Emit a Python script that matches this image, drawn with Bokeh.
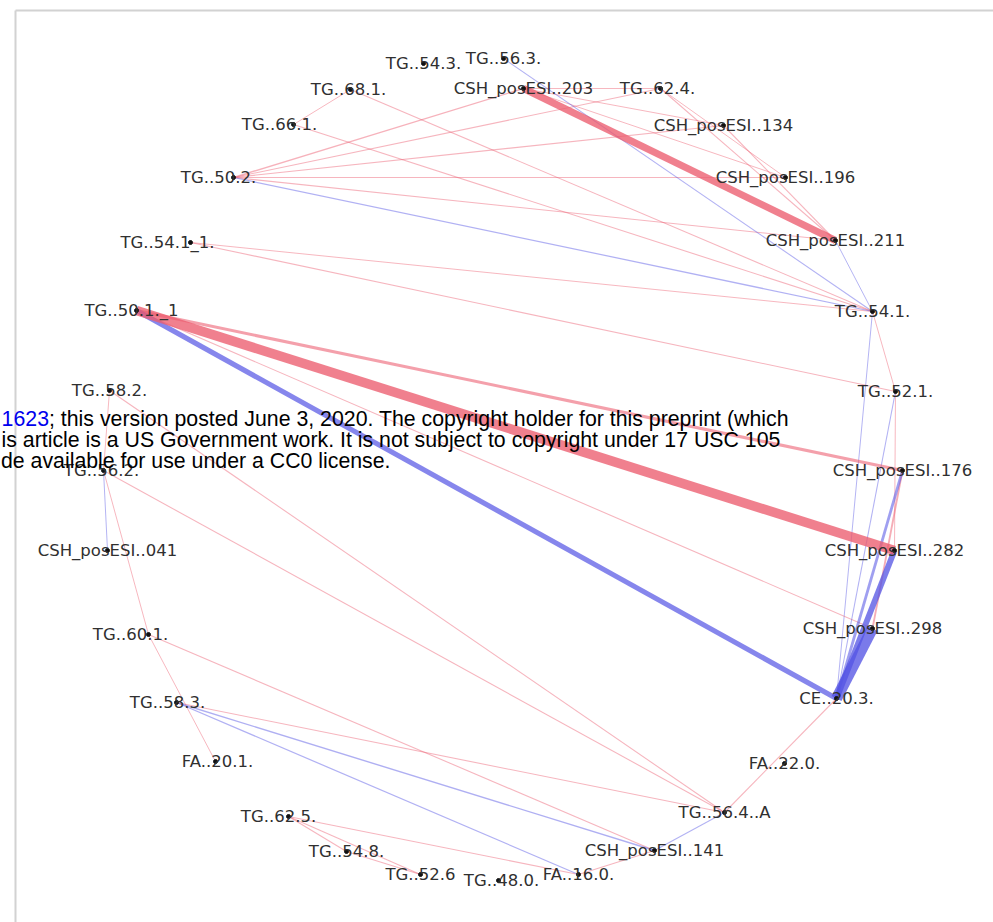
from bokeh.plotting import figure
from bokeh.models import Range1d, ColumnDataSource, Label
from bokeh.core.properties import value
from bokeh.embed import file_html
from bokeh.resources import INLINE

# ---- node layout (circle layout coordinates) ----
nodes = ["TG..56.3.", "CSH_posESI..203", "TG..62.4.", "CSH_posESI..134", "CSH_posESI..196",
         "CSH_posESI..211", "TG..54.1.", "TG..52.1.", "CSH_posESI..176", "CSH_posESI..282",
         "CSH_posESI..298", "CE..20.3.", "FA..22.0.", "TG..56.4..A", "CSH_posESI..141",
         "FA..16.0.", "TG..48.0.", "TG..52.6", "TG..54.8.", "TG..62.5.", "FA..20.1.",
         "TG..58.3.", "TG..60.1.", "CSH_posESI..041", "TG..56.2.", "TG..58.2.",
         "TG..50.1._1", "TG..54.1_1.", "TG..50.2.", "TG..66.1.", "TG..68.1.", "TG..54.3."]
node_x = [0.0025, 0.0525, 0.395, 0.5525, 0.7075, 0.8325, 0.925, 0.9825, 1.0, 0.98,
          0.925, 0.835, 0.705, 0.555, 0.38, 0.19, -0.01, -0.205, -0.39, -0.535, -0.7175,
          -0.815, -0.885, -0.9875, -0.9975, -0.9825, -0.915, -0.78, -0.6725, -0.5225, -0.38, -0.1975]
node_y = [1.03, 0.955, 0.955, 0.8625, 0.7325, 0.575, 0.3975, 0.1975, 0.0, -0.2,
          -0.395, -0.57, -0.7325, -0.855, -0.95, -1.01, -1.025, -1.01, -0.9525, -0.865, -0.7275,
          -0.58, -0.41, -0.2, 0.0, 0.2, 0.4, 0.57, 0.7325, 0.865, 0.9525, 1.0175]
label_dx = [0, 0, -3, 0, 0, 0, 0, 0, 0, 0, 0, 0, 0, 0, 0, 0, 3, 0, 0, -10, 2,
            -9, -18, 0, -2, 0, -5, -23, -15, -14, -2, 0]

# ---- edges (partial correlations; + red, - blue) ----
edge_source = ["TG..50.1._1", "TG..50.1._1", "TG..50.1._1", "TG..50.1._1", "CSH_posESI..203",
               "CE..20.3.", "CE..20.3.", "CE..20.3.", "CE..20.3.", "CE..20.3.",
               "TG..50.2.", "TG..50.2.", "TG..50.2.", "TG..50.2.", "TG..50.2.", "TG..50.2.",
               "TG..66.1.", "TG..66.1.", "TG..68.1.", "TG..54.1_1.", "TG..54.1_1.",
               "TG..56.3.", "CSH_posESI..211", "TG..62.4.", "CSH_posESI..134",
               "CSH_posESI..203", "CSH_posESI..203", "CSH_posESI..203", "TG..62.4.",
               "TG..54.1.", "TG..52.1.", "CSH_posESI..176", "CE..20.3.", "TG..56.4..A",
               "CSH_posESI..141", "TG..58.3.", "TG..58.3.", "TG..58.3.", "TG..60.1.",
               "TG..60.1.", "TG..56.2.", "TG..56.2.", "TG..58.2.", "TG..58.2.", "TG..56.2.",
               "TG..62.5.", "TG..62.5.", "TG..54.8.", "TG..62.5."]
edge_target = ["CSH_posESI..282", "CE..20.3.", "CSH_posESI..176", "CSH_posESI..298", "CSH_posESI..211",
               "CSH_posESI..298", "CSH_posESI..282", "CSH_posESI..176", "TG..52.1.", "TG..54.1.",
               "CSH_posESI..203", "TG..62.4.", "CSH_posESI..134", "CSH_posESI..196", "CSH_posESI..211", "TG..54.1.",
               "TG..68.1.", "TG..54.1.", "TG..54.1.", "TG..54.1.", "TG..52.1.",
               "TG..54.1.", "TG..54.1.", "CSH_posESI..211", "CSH_posESI..211",
               "CSH_posESI..134", "CSH_posESI..196", "TG..62.4.", "CSH_posESI..196",
               "TG..52.1.", "CSH_posESI..282", "CSH_posESI..298", "TG..56.4..A", "CSH_posESI..141",
               "FA..16.0.", "CSH_posESI..141", "FA..16.0.", "TG..56.4..A", "CSH_posESI..141",
               "FA..20.1.", "TG..60.1.", "CSH_posESI..041", "TG..56.2.", "TG..56.4..A", "TG..56.4..A",
               "TG..54.8.", "TG..52.6", "TG..52.6", "FA..16.0."]
edge_weight = [0.62, -0.33, 0.20, 0.07, 0.45,
               -0.72, -0.38, -0.18, -0.07, -0.06,
               0.09, 0.07, 0.07, 0.07, 0.07, -0.08,
               0.06, 0.07, 0.07, 0.06, 0.07,
               -0.07, -0.06, 0.07, 0.07,
               0.06, 0.06, 0.06, 0.06,
               0.06, 0.06, 0.12, 0.07, -0.07,
               0.07, -0.09, -0.08, 0.07, 0.07,
               0.06, 0.06, -0.06, 0.05, 0.07, 0.07,
               0.07, 0.07, 0.07, 0.07]

# ---- overlaid preprint notice ----
notice_link = "1623"
notice_line1 = "; this version posted June 3, 2020. The copyright holder for this preprint (which"
notice_line2 = "is article is a US Government work. It is not subject to copyright under 17 USC 105"
notice_line3 = "de available for use under a CC0 license."

# ---- canvas geometry (layout units -> pixels) ----
W, H = 993, 922
CX, CY, S = 502.0, 470.0, 400.0   # px of layout origin, px per layout unit
def ux(px): return (px - CX) / S
def uy(py): return (CY - py) / S

p = figure(width=W, height=H, output_backend="svg", toolbar_location=None,
           x_range=Range1d(ux(0), ux(W)), y_range=Range1d(uy(H), uy(0)),
           min_border=0, outline_line_color=None, background_fill_color="white")
p.xaxis.visible = False
p.yaxis.visible = False
p.grid.visible = False

# frame border (left and top)
p.segment(x0=[ux(15), ux(15)], y0=[uy(10), uy(10)], x1=[ux(15), ux(1100)], y1=[uy(1100), uy(10)],
          line_color="#d2d2d2", line_width=2)

idx = {n: i for i, n in enumerate(nodes)}
order = sorted(range(len(edge_weight)), key=lambda k: abs(edge_weight[k]))
x0, y0, x1, y1, col, alp, wid = [], [], [], [], [], [], []
for k in order:
    a, b, w = idx[edge_source[k]], idx[edge_target[k]], edge_weight[k]
    x0.append(node_x[a]); y0.append(node_y[a]); x1.append(node_x[b]); y1.append(node_y[b])
    col.append("#ec5c6e" if w > 0 else "#5454e4")
    alp.append(min(0.78, 0.38 + abs(w)))
    wid.append(max(1.0, 15.5 * abs(w)))
esrc = ColumnDataSource(dict(x0=x0, y0=y0, x1=x1, y1=y1, c=col, a=alp, w=wid))
p.segment(x0="x0", y0="y0", x1="x1", y1="y1", source=esrc,
          line_color="c", line_alpha="a", line_width="w", line_cap="butt")

nsrc = ColumnDataSource(dict(x=node_x, y=node_y, name=nodes, dx=label_dx))
p.scatter(x="x", y="y", source=nsrc, size=4, color="#111111")
p.text(x="x", y="y", text="name", source=nsrc, x_offset="dx",
       text_font=value("DejaVu Sans"), text_font_size="16.5px", text_color="#303030",
       text_align="center", text_baseline="middle")

for txt, xp, yp, al, colr in [(notice_link, 48.5, 418, "right", "#0000ee"),
                              (notice_line1, 48.5, 418, "left", "black"),
                              (notice_line2, 1.0, 439.5, "left", "black"),
                              (notice_line3, 0.5, 460.5, "left", "black")]:
    p.add_layout(Label(x=ux(xp), y=uy(yp), text=txt, text_font="Liberation Sans",
                       text_font_size="21.3px", text_align=al, text_baseline="alphabetic",
                       text_color=colr))

open("out.html", "w").write(file_html(p, INLINE))
